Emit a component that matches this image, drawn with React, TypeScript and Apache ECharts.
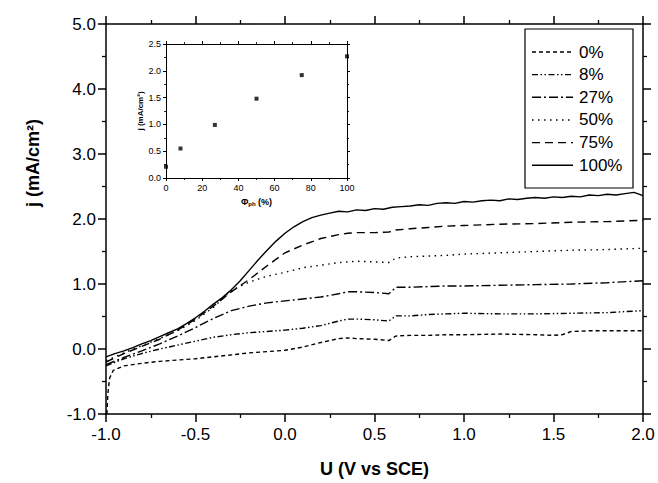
import React, { useEffect, useRef } from "react";
import * as echarts from "echarts";

// Main plot: potential U (V vs SCE)
const U100 = [-1.0,-0.95,-0.9,-0.85,-0.8,-0.75,-0.7,-0.65,-0.6,-0.55,-0.5,-0.45,-0.4,-0.35,-0.3,-0.25,-0.2,-0.15,-0.1,-0.05,0.0,0.05,0.1,0.15,0.2,0.25,0.3,0.35,0.4,0.45,0.5,0.55,0.6,0.65,0.7,0.75,0.8,0.85,0.9,0.95,1.0,1.05,1.1,1.15,1.2,1.25,1.3,1.35,1.4,1.45,1.5,1.55,1.6,1.65,1.7,1.75,1.8,1.85,1.9,1.95,2.0];
const J100 = [-0.12,-0.07,-0.03,0.02,0.08,0.13,0.19,0.25,0.31,0.39,0.48,0.58,0.69,0.79,0.91,1.05,1.21,1.37,1.52,1.66,1.78,1.88,1.96,2.02,2.06,2.09,2.12,2.11,2.14,2.13,2.16,2.15,2.18,2.19,2.2,2.22,2.21,2.24,2.25,2.24,2.27,2.26,2.28,2.29,2.28,2.31,2.3,2.32,2.33,2.32,2.34,2.33,2.35,2.34,2.37,2.36,2.38,2.37,2.39,2.41,2.36];

const U = [-1.0,-0.9,-0.8,-0.7,-0.6,-0.5,-0.4,-0.3,-0.2,-0.1,0.0,0.1,0.2,0.3,0.35,0.4,0.5,0.58,0.62,0.7,0.8,0.9,1.0,1.2,1.4,1.6,1.8,2.0];
const J75 = [-0.2,-0.07,0.04,0.15,0.29,0.46,0.66,0.88,1.07,1.28,1.48,1.6,1.7,1.76,1.78,1.79,1.79,1.8,1.83,1.85,1.87,1.89,1.9,1.92,1.93,1.95,1.96,1.98];
const J50 = [-0.18,-0.06,0.05,0.16,0.28,0.44,0.64,0.9,1.03,1.12,1.18,1.25,1.29,1.33,1.34,1.35,1.34,1.33,1.4,1.42,1.43,1.44,1.46,1.48,1.5,1.52,1.53,1.55];
const J27 = [-0.24,-0.13,-0.03,0.08,0.2,0.33,0.47,0.59,0.66,0.71,0.74,0.77,0.8,0.85,0.88,0.88,0.87,0.85,0.95,0.95,0.96,0.97,0.97,0.98,0.99,1.0,1.02,1.05];
const J8 = [-0.26,-0.15,-0.07,0.0,0.06,0.12,0.18,0.22,0.25,0.27,0.29,0.32,0.36,0.43,0.46,0.46,0.45,0.43,0.51,0.51,0.53,0.54,0.55,0.54,0.54,0.55,0.56,0.59];

const U0 = [-0.995,-0.99,-0.98,-0.96,-0.9,-0.8,-0.7,-0.6,-0.5,-0.4,-0.3,-0.2,-0.1,0.0,0.1,0.2,0.3,0.35,0.4,0.5,0.58,0.62,0.7,0.8,0.9,1.0,1.2,1.4,1.5,1.55,1.6,1.7,1.8,1.9,2.0];
const J0 = [-1.0,-0.7,-0.45,-0.33,-0.26,-0.22,-0.19,-0.17,-0.15,-0.12,-0.09,-0.06,-0.04,-0.02,0.03,0.1,0.16,0.17,0.16,0.15,0.13,0.2,0.21,0.21,0.22,0.22,0.23,0.22,0.21,0.22,0.27,0.28,0.28,0.28,0.28];

const SERIES_NAMES = ["0%", "8%", "27%", "50%", "75%", "100%"];

// Inset: photon flux fraction vs current density
const PHI = [0, 8, 27, 50, 75, 100];
const J_INSET = [0.21, 0.55, 0.99, 1.48, 1.92, 2.27];

const FONT = "Liberation Sans, Arial, Helvetica, sans-serif";

const DASHES: any[] = [[4, 3], [6, 2.5, 1.5, 2.5, 1.5, 2.5], [9, 3, 2, 3], [1.5, 4.5], [8, 5], "solid"];

const pairs = (xs: number[], ys: number[]) => xs.map((x, i) => [x, ys[i]]);

export default function App() {
  const ref = useRef<HTMLDivElement>(null);
  useEffect(() => {
    if (!ref.current) return;
    const chart = echarts.init(ref.current, undefined, { renderer: "svg" });

    // tick-only helper axes: placed outside the frame (offset) with ticks pointing
    // back towards the frame, so they read as outward ticks on the frame line
    const helpers = (
      gridIndex: number,
      positions: string[],
      range: { min: number; max: number; interval: number },
      majorLen: number,
      minorLen: number,
      width: number
    ) => {
      const out: any[] = [];
      positions.forEach((position) => {
        out.push({
          type: "value", gridIndex, position, offset: majorLen, ...range,
          axisLine: { show: false, onZero: false }, axisLabel: { show: false }, splitLine: { show: false },
          axisTick: { show: true, inside: true, length: majorLen, lineStyle: { color: "#000", width } },
          minorTick: { show: false },
        });
        out.push({
          type: "value", gridIndex, position, offset: minorLen, ...range,
          axisLine: { show: false, onZero: false }, axisLabel: { show: false }, splitLine: { show: false },
          axisTick: { show: false, inside: true, length: minorLen },
          minorTick: { show: true, splitNumber: 2, length: minorLen, lineStyle: { color: "#000", width: width * 0.85 } },
        });
      });
      return out;
    };

    const frameLine = (w: number) => ({ show: true, onZero: false, lineStyle: { color: "#000", width: w } });
    const noTick = { show: false };

    const xMain = { min: -1, max: 2, interval: 0.5 };
    const yMain = { min: -1, max: 5, interval: 1 };
    const xInset = { min: 0, max: 100, interval: 20 };
    const yInset = { min: 0, max: 2.5, interval: 0.5 };

    const xAxes: any[] = [
      {
        type: "value", gridIndex: 0, position: "bottom", ...xMain,
        axisLine: frameLine(1.5), axisTick: noTick, splitLine: { show: false },
        axisLabel: { fontSize: 17, color: "#000", margin: 12, fontFamily: FONT, formatter: (v: number) => v.toFixed(1) },
        name: "U (V vs SCE)", nameLocation: "middle", nameGap: 46,
        nameTextStyle: { fontSize: 18, fontWeight: "bold", color: "#000", fontFamily: FONT },
      },
      {
        type: "value", gridIndex: 0, position: "top", ...xMain,
        axisLine: frameLine(1.5), axisTick: noTick, splitLine: { show: false }, axisLabel: { show: false },
      },
      {
        type: "value", gridIndex: 1, position: "bottom", ...xInset,
        axisLine: frameLine(1), axisTick: noTick, splitLine: { show: false },
        axisLabel: { fontSize: 9, color: "#000", margin: 5, fontFamily: FONT },
        name: "{a|Φ}{s|ph}{a| (%)}", nameLocation: "middle", nameGap: 18,
        nameTextStyle: {
          fontFamily: FONT, color: "#000",
          rich: {
            a: { fontSize: 9, fontWeight: "bold", fontFamily: FONT, color: "#000" },
            s: { fontSize: 6, fontWeight: "bold", fontFamily: FONT, color: "#000", verticalAlign: "bottom", padding: [5, 0, 0, 0] },
          },
        },
      },
      {
        type: "value", gridIndex: 1, position: "top", ...xInset,
        axisLine: frameLine(1), axisTick: noTick, splitLine: { show: false }, axisLabel: { show: false },
      },
      ...helpers(0, ["bottom", "top"], xMain, 8, 4, 1.5),
      ...helpers(1, ["bottom", "top"], xInset, 3, 2, 1),
    ];

    const yAxes: any[] = [
      {
        type: "value", gridIndex: 0, position: "left", ...yMain,
        axisLine: frameLine(1.5), axisTick: noTick, splitLine: { show: false },
        axisLabel: { fontSize: 17, color: "#000", margin: 10, fontFamily: FONT, formatter: (v: number) => v.toFixed(1) },
        name: "j (mA/cm²)", nameLocation: "middle", nameGap: 64,
        nameTextStyle: { fontSize: 18, fontWeight: "bold", color: "#000", fontFamily: FONT, padding: [0, 0, 0, 112] },
      },
      {
        type: "value", gridIndex: 0, position: "right", ...yMain,
        axisLine: frameLine(1.5), axisTick: noTick, splitLine: { show: false }, axisLabel: { show: false },
      },
      {
        type: "value", gridIndex: 1, position: "left", ...yInset,
        axisLine: frameLine(1), axisTick: noTick, splitLine: { show: false },
        axisLabel: { fontSize: 9, color: "#000", margin: 5, fontFamily: FONT, formatter: (v: number) => v.toFixed(1) },
        name: "j (mA/cm²)", nameLocation: "middle", nameGap: 20,
        nameTextStyle: { fontSize: 8, fontWeight: "bold", color: "#000", fontFamily: FONT },
      },
      {
        type: "value", gridIndex: 1, position: "right", ...yInset,
        axisLine: frameLine(1), axisTick: noTick, splitLine: { show: false }, axisLabel: { show: false },
      },
      ...helpers(0, ["left", "right"], yMain, 8, 4, 1.5),
      ...helpers(1, ["left", "right"], yInset, 3, 2, 1),
    ];

    const lineSeries = (name: string, data: number[][], type: any, z: number) => ({
      name,
      type: "line",
      data,
      xAxisIndex: 0,
      yAxisIndex: 0,
      symbol: "none",
      showSymbol: false,
      z,
      lineStyle: { color: "#000", width: 1.4, type },
      itemStyle: { color: "#000" },
    });

    const legendEls: any[] = [
      {
        type: "rect",
        shape: { x: 525, y: 29, width: 108, height: 159 },
        style: { fill: "#fff", stroke: "#000", lineWidth: 1.2 },
        z: 10,
      },
    ];
    SERIES_NAMES.forEach((name, i) => {
      const cy = 52 + i * 22.65;
      const dash = DASHES[i];
      legendEls.push({
        type: "line",
        shape: { x1: 532, y1: cy, x2: 573, y2: cy },
        style: { stroke: "#000", lineWidth: 1.4, lineDash: dash === "solid" ? null : dash },
        z: 11,
      });
      legendEls.push({
        type: "text",
        x: 579,
        y: cy,
        style: { text: name, fontSize: 17, fontFamily: FONT, fill: "#000", verticalAlign: "middle", align: "left" },
        z: 11,
      });
    });

    chart.setOption({
      animation: false,
      backgroundColor: "#fff",
      textStyle: { fontFamily: FONT, color: "#000" },
      grid: [
        { left: 106, right: 15, top: 24, bottom: 65 },
        { left: 166, right: 311, top: 44, bottom: 305 },
      ],
      graphic: legendEls,
      xAxis: xAxes,
      yAxis: yAxes,
      series: [
        ...SERIES_NAMES.map((n, i) =>
          lineSeries(
            n,
            [pairs(U0, J0), pairs(U, J8), pairs(U, J27), pairs(U, J50), pairs(U, J75), pairs(U100, J100)][i],
            DASHES[i],
            2 + i
          )
        ),
        {
          name: "inset",
          type: "scatter",
          xAxisIndex: 2,
          yAxisIndex: 2,
          data: pairs(PHI, J_INSET),
          symbol: "rect",
          symbolSize: 4,
          itemStyle: { color: "#000" },
          z: 8,
        },
      ],
    });
    return () => chart.dispose();
  }, []);
  return <div ref={ref} style={{ position: "fixed", left: 0, top: 0, width: 658, height: 483 }} />;
}
